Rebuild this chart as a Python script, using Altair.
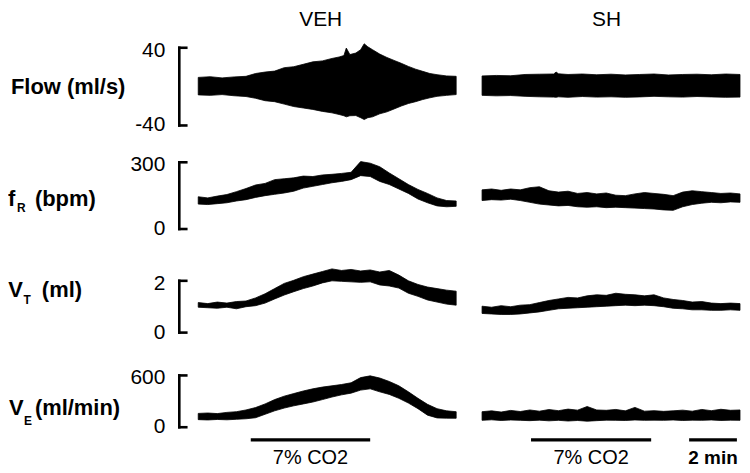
import altair as alt
import pandas as pd

FONT = "Liberation Sans"

# ---------------- data ----------------
GROUPS = ["VEH", "SH"]
STIM_LABEL = "7% CO2"
SCALE_LABEL = "2 min"
CO2_VEH = [2.2, 7.2]        # minutes, VEH recording
CO2_SH = [2.05, 7.08]       # minutes, SH recording
SCALE_BAR = [8.67, 10.67]   # minutes, 2-min calibration bar

T = [0.0, 0.4, 0.8, 1.2, 1.6, 2.0, 2.4, 2.8, 3.2, 3.6, 4.0, 4.4, 4.8, 5.2,
     5.6, 6.0, 6.4, 6.8, 7.2, 7.6, 8.0, 8.4, 8.8, 9.2, 9.6, 10.0, 10.4, 10.8]

FLOW_VEH_T = [0.0, 0.5, 1.0, 1.5, 2.0, 2.4, 2.8, 3.2, 3.6, 4.0, 4.4, 4.8, 5.2, 5.6,
              5.9, 6.1, 6.2, 6.35, 6.6, 6.8, 6.95, 7.1, 7.3, 7.6, 7.9, 8.2, 8.5,
              8.8, 9.1, 9.4, 9.7, 10.0, 10.4, 10.8]
FLOW_VEH_HI = [9.5, 10.2, 9.0, 10.0, 10.6, 13.5, 15.0, 16.0, 19.5, 20.5, 23.0, 25.5,
               26.5, 29.0, 30.5, 32.0, 39.7, 33.0, 34.6, 38.0, 44.1, 41.0, 38.0, 33.5,
               30.0, 27.0, 24.0, 20.8, 18.0, 15.7, 13.5, 12.3, 11.0, 10.6]
FLOW_VEH_LO = [-8.5, -9.0, -8.2, -9.4, -10.2, -12.0, -14.5, -15.5, -18.0, -20.5, -22.0,
               -23.5, -25.5, -27.0, -28.7, -30.0, -31.1, -30.0, -29.8, -32.0, -33.9,
               -32.0, -31.1, -28.0, -26.0, -23.0, -20.0, -17.4, -15.5, -13.3, -11.5,
               -10.0, -9.0, -8.2]

FLOW_SH_T = [0.0, 0.6, 1.2, 1.8, 2.4, 3.0, 3.1, 3.2, 3.6, 4.2, 4.8, 5.4, 6.0, 6.6,
             7.2, 7.8, 8.4, 9.0, 9.6, 10.2, 10.8]
FLOW_SH_HI = [11.0, 11.5, 11.2, 12.5, 12.8, 13.0, 15.0, 13.2, 12.5, 13.0, 12.2, 12.8,
              12.0, 12.5, 13.0, 12.0, 12.5, 12.8, 12.2, 13.0, 12.5]
FLOW_SH_LO = [-9.0, -9.5, -9.2, -10.0, -10.5, -10.8, -11.0, -10.5, -11.0, -10.2, -10.8,
              -10.5, -11.0, -10.6, -10.0, -10.5, -10.8, -10.2, -10.6, -11.0, -10.8]

FR_VEH_HI = [145, 140, 148, 155, 168, 182, 198, 205, 222, 226, 230, 238, 236, 243,
             246, 250, 255, 303, 296, 280, 252, 226, 200, 178, 160, 140, 128, 126]
FR_VEH_LO = [112, 110, 114, 118, 126, 132, 142, 150, 156, 162, 170, 184, 192, 200,
             208, 214, 222, 240, 236, 214, 200, 180, 160, 135, 118, 104, 100, 102]
FR_SH_HI = [176, 180, 174, 180, 176, 186, 190, 172, 166, 170, 160, 164, 158, 162,
            152, 150, 158, 164, 160, 156, 150, 166, 172, 168, 164, 160, 162, 158]
FR_SH_LO = [128, 132, 130, 134, 128, 120, 112, 108, 104, 106, 100, 98, 100, 96,
            98, 96, 94, 92, 90, 86, 84, 100, 110, 116, 120, 118, 122, 120]

VT_VEH_HI = [1.16, 1.12, 1.18, 1.14, 1.20, 1.22, 1.34, 1.50, 1.70, 1.90, 2.02, 2.16,
             2.26, 2.36, 2.46, 2.40, 2.44, 2.38, 2.42, 2.34, 2.40, 2.22, 2.00, 1.86,
             1.76, 1.70, 1.64, 1.60]
VT_VEH_LO = [0.98, 0.96, 0.94, 0.98, 0.92, 1.00, 1.04, 1.14, 1.30, 1.45, 1.58, 1.70,
             1.80, 1.92, 2.00, 1.98, 1.96, 1.94, 1.96, 1.84, 1.80, 1.72, 1.52, 1.40,
             1.26, 1.18, 1.10, 1.06]
VT_SH_HI = [1.02, 0.98, 1.04, 1.00, 1.06, 1.08, 1.16, 1.24, 1.30, 1.36, 1.34, 1.42,
            1.46, 1.44, 1.52, 1.48, 1.46, 1.42, 1.46, 1.34, 1.28, 1.24, 1.18, 1.20,
            1.14, 1.12, 1.14, 1.12]
VT_SH_LO = [0.74, 0.72, 0.70, 0.70, 0.72, 0.76, 0.80, 0.86, 0.92, 0.94, 0.96, 0.98,
            1.00, 1.02, 1.04, 1.06, 1.04, 1.06, 1.04, 1.00, 0.94, 0.92, 0.88, 0.88,
            0.86, 0.86, 0.88, 0.86]

VE_VEH_HI = [160, 165, 158, 172, 180, 200, 228, 270, 320, 360, 390, 420, 445, 465,
             480, 495, 515, 575, 595, 570, 530, 480, 410, 335, 265, 215, 190, 180]
VE_VEH_LO = [88, 84, 90, 86, 92, 98, 110, 150, 190, 222, 248, 270, 292, 320,
             350, 375, 395, 430, 445, 410, 380, 335, 280, 215, 140, 108, 105, 104]
VE_SH_HI = [180, 190, 176, 195, 182, 200, 186, 205, 192, 210, 198, 240, 200, 196,
            206, 190, 230, 186, 192, 184, 190, 198, 186, 206, 192, 208, 196, 200]
VE_SH_LO = [80, 86, 78, 84, 80, 76, 82, 74, 80, 72, 78, 70, 76, 82,
            80, 78, 84, 80, 82, 80, 84, 78, 82, 80, 84, 78, 82, 80]

# calibration brackets: (min, max, labels)
FLOW_CAL = [-40, 40, ["-40", "40"]]
FR_CAL = [0, 300, ["0", "300"]]
VT_CAL = [0, 2, ["0", "2"]]
VE_CAL = [0, 600, ["0", "600"]]

# ---------------- layout ----------------
XDOM = [0, 10.8]
W = 259


def xs():
    return alt.Scale(domain=XDOM, nice=False, zero=False)


def ys(dom):
    return alt.Scale(domain=dom, nice=False, zero=False)


def trace(t, hi, lo, ydom):
    df = pd.DataFrame({"t": t, "hi": hi, "lo": lo})
    return alt.Chart(df).mark_area(color="black", stroke="black", strokeWidth=0.8).encode(
        x=alt.X("t:Q", scale=xs(), axis=None),
        y=alt.Y("hi:Q", scale=ys(ydom), axis=None),
        y2="lo:Q",
    )


def bracket(cal, ydom):
    vmin, vmax, (lmin, lmax) = cal
    dv = pd.DataFrame({"a": [vmin], "b": [vmax]})
    vline = alt.Chart(dv).mark_rule(color="black", strokeWidth=2.6, strokeCap="square").encode(
        x=alt.value(-19), y=alt.Y("a:Q", scale=ys(ydom), axis=None), y2="b:Q")
    dt = pd.DataFrame({"v": [vmin, vmax]})
    ticks = alt.Chart(dt).mark_rule(color="black", strokeWidth=2.6, strokeCap="square").encode(
        x=alt.value(-19), x2=alt.value(-12), y=alt.Y("v:Q", scale=ys(ydom), axis=None))
    top = alt.Chart(pd.DataFrame({"v": [vmax], "s": [lmax]})).mark_text(
        align="right", baseline="middle", dy=3, fontSize=21, font=FONT, color="black").encode(
        x=alt.value(-33), y=alt.Y("v:Q", scale=ys(ydom), axis=None), text="s:N")
    bot = alt.Chart(pd.DataFrame({"v": [vmin], "s": [lmin]})).mark_text(
        align="right", baseline="middle", dy=0, fontSize=21, font=FONT, color="black").encode(
        x=alt.value(-33), y=alt.Y("v:Q", scale=ys(ydom), axis=None), text="s:N")
    return [vline, ticks, top, bot]


def txt(s, x, y, size=22, weight="bold", align="left", baseline="alphabetic"):
    return alt.Chart(pd.DataFrame({"s": [s]})).mark_text(
        align=align, baseline=baseline, fontSize=size, fontWeight=weight,
        font=FONT, color="black").encode(x=alt.value(x), y=alt.value(y), text="s:N")


def stim(span, label, y_bar, y_txt, size=20, weight="normal"):
    df = pd.DataFrame({"s": [span[0]], "e": [span[1]], "lab": [label]})
    bar = alt.Chart(df).mark_rule(color="black", strokeWidth=3.3).encode(
        x=alt.X("s:Q", scale=xs(), axis=None), x2="e:Q", y=alt.value(y_bar))
    lab = alt.Chart(df).transform_calculate(mid="(datum.s + datum.e) / 2").mark_text(
        align="center", baseline="middle", fontSize=size, fontWeight=weight, font=FONT,
        color="black").encode(x=alt.X("mid:Q", scale=xs(), axis=None), y=alt.value(y_txt),
                              text="lab:N")
    return [bar, lab]


# Row 1: Flow
D1 = [-60.5, 60.5]
H1 = 118
r1l = alt.layer(trace(FLOW_VEH_T, FLOW_VEH_HI, FLOW_VEH_LO, D1), *bracket(FLOW_CAL, D1),
                txt("Flow (ml/s)", -188, 66.3),
                txt(GROUPS[0], 123, -7.5, size=21, weight="normal", align="center",
                    baseline="middle")).properties(width=W, height=H1)
r1r = alt.layer(trace(FLOW_SH_T, FLOW_SH_HI, FLOW_SH_LO, D1),
                txt(GROUPS[1], 125, -7.5, size=21, weight="normal", align="center",
                    baseline="middle")).properties(width=W, height=H1)

# Row 2: fR
D2 = [-112, 376]
H2 = 109
r2l = alt.layer(trace(T, FR_VEH_HI, FR_VEH_LO, D2), *bracket(FR_CAL, D2),
                txt("f", -191, 60.5), txt("R", -182, 67.3, size=12),
                txt("(bpm)", -164, 60.5)).properties(width=W, height=H2)
r2r = alt.layer(trace(T, FR_SH_HI, FR_SH_LO, D2)).properties(width=W, height=H2)

# Row 3: VT
D3 = [-0.808, 3.038]
H3 = 100
r3l = alt.layer(trace(T, VT_VEH_HI, VT_VEH_LO, D3), *bracket(VT_CAL, D3),
                txt("V", -190.7, 43.3), txt("T", -175.5, 50, size=12),
                txt("(ml)", -157, 43.3)).properties(width=W, height=H3)
r3r = alt.layer(trace(T, VT_SH_HI, VT_SH_LO, D3)).properties(width=W, height=H3)

# Row 4: VE
D4 = [-69.2, 853.8]
H4 = 80
r4l = alt.layer(trace(T, VE_VEH_HI, VE_VEH_LO, D4), *bracket(VE_CAL, D4),
                txt("V", -190, 61.7), txt("E", -175, 71.7, size=12),
                txt("(ml/min)", -164, 61.7),
                *stim(CO2_VEH, STIM_LABEL, 86.7, 105)).properties(width=W, height=H4)
r4r = alt.layer(trace(T, VE_SH_HI, VE_SH_LO, D4),
                *stim(CO2_SH, STIM_LABEL, 86.7, 105),
                *stim(SCALE_BAR, SCALE_LABEL, 86.7, 105, size=19, weight="bold")
                ).properties(width=W, height=H4)

chart = alt.concat(r1l, r1r, r2l, r2r, r3l, r3r, r4l, r4r, columns=2,
                   spacing={"row": 0, "column": 26}, bounds="flush").properties(
    padding=0, background="white").configure_view(stroke=None)

chart.save("out.html", embed_options={"renderer": "svg", "actions": False})
